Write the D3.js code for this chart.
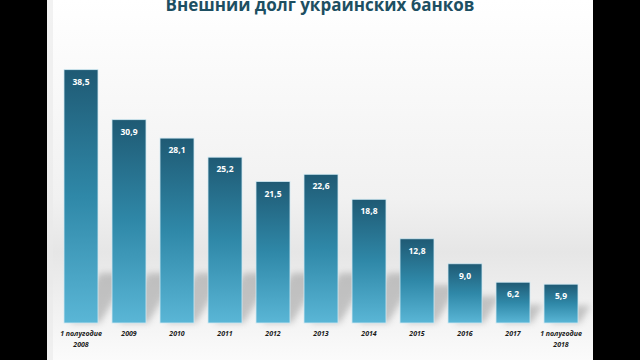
<!DOCTYPE html>
<html>
<head>
<meta charset="utf-8">
<script src="https://cdn.jsdelivr.net/npm/d3@7"></script>
<style>
  body { margin: 0; background: #000; }
  svg { display: block; }
</style>
</head>
<body>
<svg id="chart" width="640" height="360"></svg>
<script>
// данные
const categories = ['1 полугодие|2008', '2009', '2010', '2011', '2012', '2013', '2014', '2015', '2016', '2017', '1 полугодие|2018'];
const values = [38.5, 30.9, 28.1, 25.2, 21.5, 22.6, 18.8, 12.8, 9.0, 6.2, 5.9];
const title = 'Внешний долг украинских банков';

const dados = categories.map((c, i) => ({ name: c, value: values[i] }));

const svg = d3.select('#chart');
const defs = svg.append('defs');

// фон слайда
const bg = defs.append('linearGradient').attr('id', 'bg').attr('x1', 0).attr('y1', 0).attr('x2', 0).attr('y2', 1);
bg.append('stop').attr('offset', '0%').attr('stop-color', '#ffffff');
bg.append('stop').attr('offset', '55%').attr('stop-color', '#f1f1f1');
bg.append('stop').attr('offset', '70%').attr('stop-color', '#e6e6e6');
bg.append('stop').attr('offset', '100%').attr('stop-color', '#fbfbfb');

const bar = defs.append('linearGradient').attr('id', 'barGrad').attr('x1', 0).attr('y1', 0).attr('x2', 0).attr('y2', 1);
bar.append('stop').attr('offset', '0%').attr('stop-color', '#1f5a74');
bar.append('stop').attr('offset', '50%').attr('stop-color', '#2f88a8');
bar.append('stop').attr('offset', '100%').attr('stop-color', '#5ab6d6');

defs.append('filter').attr('id', 'blur').attr('x', '-50%').attr('y', '-50%').attr('width', '200%').attr('height', '200%')
    .append('feGaussianBlur').attr('stdDeviation', 3);

svg.append('rect').attr('x', 47).attr('y', 0).attr('width', 546).attr('height', 360).attr('fill', 'url(#bg)');
svg.append('rect').attr('x', 47).attr('y', 0).attr('width', 6).attr('height', 360).attr('fill', '#e9e9e9').attr('opacity', 0.6);

const baseline = 323;

const xScale = d3.scaleBand()
    .range([57, 585])
    .domain(dados.map((d) => d.name))
    .paddingInner(0.2917)
    .paddingOuter(0.1458);

const yScale = d3.scaleLinear()
    .range([baseline, baseline - 40 * 6.58])
    .domain([0, 40]);

const bw = xScale.bandwidth();

/*тени*/
svg.append('g').selectAll('path')
    .data(dados)
    .enter()
    .append('path')
    .attr('d', (d) => {
        const x = xScale(d.name);
        const h = Math.min((baseline - yScale(d.value)) * 0.45, 50);
        return `M${x + 6},${baseline} L${x + bw + 2},${baseline} L${x + bw + 2 + h * 0.6},${baseline - h} L${x + 6 + h * 0.6},${baseline - h} Z`;
    })
    .attr('fill', '#8a8a8a')
    .attr('opacity', 0.45)
    .attr('filter', 'url(#blur)');

const groups = svg.append('g').selectAll('g')
    .data(dados)
    .enter()
    .append('g');

/*столбцы*/
groups.append('rect')
    .attr('x', (d) => xScale(d.name))
    .attr('y', (d) => yScale(d.value))
    .attr('width', bw)
    .attr('height', (d) => baseline - yScale(d.value))
    .attr('fill', 'url(#barGrad)')
    .attr('stroke', '#cfe9f3')
    .attr('stroke-width', 0.8);

/*значения*/
groups.append('text')
    .attr('x', (d) => xScale(d.name) + bw / 2)
    .attr('y', (d) => yScale(d.value) + 15)
    .attr('text-anchor', 'middle')
    .attr('fill', '#ffffff')
    .attr('font-family', 'Open Sans, sans-serif')
    .attr('font-weight', 'bold')
    .attr('font-size', 8.5)
    .text((d) => d.value.toFixed(1).replace('.', ','));

/*подписи оси*/
const labels = svg.append('g').selectAll('text')
    .data(dados)
    .enter()
    .append('text')
    .attr('x', (d) => xScale(d.name) + bw / 2)
    .attr('y', 336)
    .attr('text-anchor', 'middle')
    .attr('fill', '#1a1a1a')
    .attr('font-family', 'Open Sans, sans-serif')
    .attr('font-style', 'italic')
    .attr('font-weight', 'bold')
    .attr('font-size', 7);

labels.each(function (d) {
    const parts = d.name.split('|');
    const t = d3.select(this);
    parts.forEach((p, i) => {
        t.append('tspan')
            .attr('x', xScale(d.name) + bw / 2)
            .attr('dy', i === 0 ? 0 : 11)
            .text(p);
    });
});

/*заголовок*/
svg.append('text')
    .attr('x', 320)
    .attr('y', 11)
    .attr('text-anchor', 'middle')
    .attr('fill', '#1d4f62')
    .attr('font-family', 'Open Sans, sans-serif')
    .attr('font-weight', 'bold')
    .attr('font-size', 17)
    .text(title);
</script>
</body>
</html>
